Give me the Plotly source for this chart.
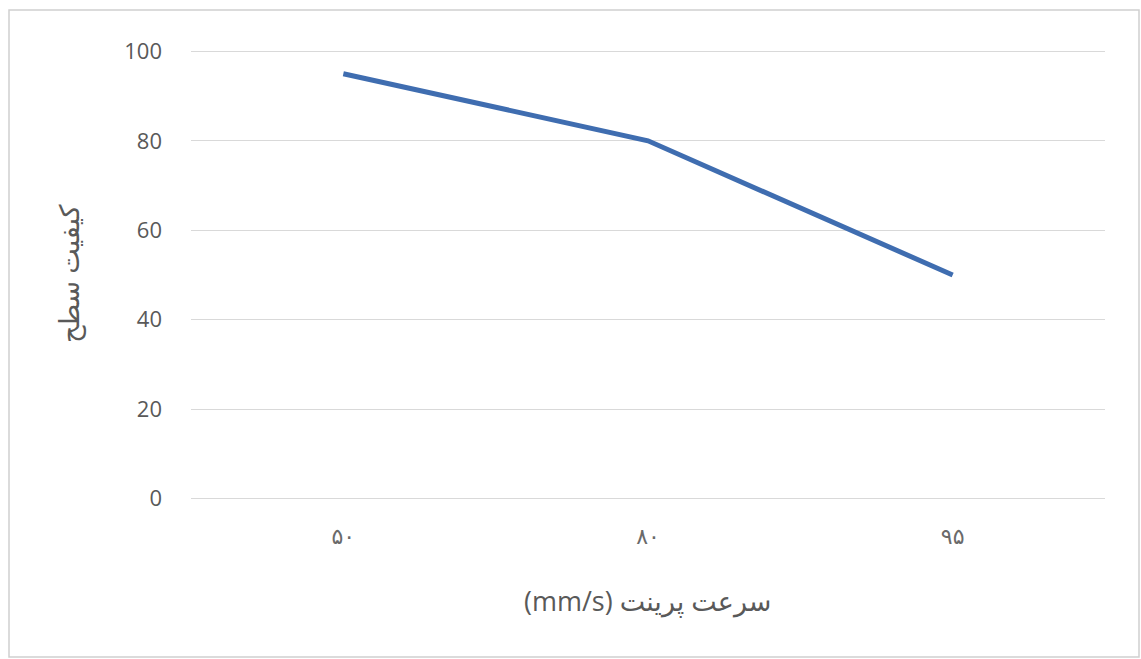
import plotly.graph_objects as go

categories = ["۵۰", "۸۰", "۹۵"]
quality = [95, 80, 50]
y_ticks = [0, 20, 40, 60, 80, 100]
x_title = "(mm/s) سرعت پرینت"
y_title = "کیفیت سطح"

fig = go.Figure()
fig.add_trace(go.Scatter(
    x=categories, y=quality, mode="lines",
    line=dict(color="#3F6DB0", width=5),
    showlegend=False,
))

W, H = 1141, 659
L, R, T, B = 191, 1141 - 1105, 50, 659 - 500
pw, ph = W - L - R, H - T - B

def px_to_paper_x(px):
    return (px - L) / pw

def px_to_paper_y(py):
    return (H - B - py) / ph

fig.update_layout(
    width=W, height=H,
    margin=dict(l=L, r=R, t=T, b=B, autoexpand=False),
    paper_bgcolor="white", plot_bgcolor="white",
    font=dict(family="Open Sans, DejaVu Sans", color="#595959", size=18),
    xaxis=dict(
        type="category", range=[-0.5, 2.5], showgrid=False, showline=False,
        ticks="", ticklabelstandoff=21, tickfont=dict(size=22, color="#6a6a6a"),
        fixedrange=True,
    ),
    yaxis=dict(
        range=[-0.3, 100.3], tickvals=y_ticks, showgrid=True, gridcolor="#d9d9d9",
        gridwidth=1.2, zeroline=False, showline=False, ticks="",
        ticklabelstandoff=28, tickfont=dict(size=22, color="#595959"),
        fixedrange=True,
    ),
    annotations=[
        dict(text=x_title, xref="paper", yref="paper",
             x=px_to_paper_x(647), y=px_to_paper_y(600),
             showarrow=False, font=dict(size=27, color="#595959"),
             xanchor="center", yanchor="middle"),
        dict(text=y_title, xref="paper", yref="paper",
             x=px_to_paper_x(68), y=px_to_paper_y(274),
             showarrow=False, textangle=-90, font=dict(size=27, color="#595959"),
             xanchor="center", yanchor="middle"),
    ],
    shapes=[dict(
        type="rect", xref="paper", yref="paper",
        x0=px_to_paper_x(9), x1=px_to_paper_x(1139),
        y0=px_to_paper_y(657), y1=px_to_paper_y(10),
        line=dict(color="#d0d0d0", width=1.5), fillcolor="rgba(0,0,0,0)",
        layer="below",
    )],
)

fig.write_html("out.html", config={"displayModeBar": False},
               post_script="document.body.style.margin='0';document.body.style.overflow='hidden';")
